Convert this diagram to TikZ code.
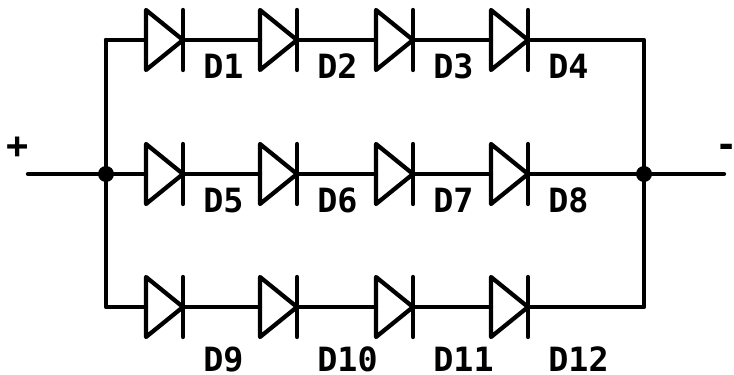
\documentclass[tikz,border=0pt]{standalone}
\usepackage{fontspec}
\setmonofont{DejaVu Sans Mono}
\tikzset{
  wire/.style={line width=0.085cm,line cap=round,line join=round},
  diodelabel/.style={inner sep=0pt,text depth=0pt,anchor=base west,font=\ttfamily\bfseries\fontsize{19}{19}\selectfont},
  polarity/.style={inner sep=0pt,font=\ttfamily\bfseries\fontsize{21}{21}\selectfont}
}
\begin{document}
\begin{tikzpicture}[x=0.02cm,y=-0.02cm]
      \useasboundingbox (0,0) rectangle (734,375);
      % terminals and buses
      \coordinate (in) at (28,174);
      \coordinate (out) at (724,174);
      \coordinate (busl) at (106,174);
      \coordinate (busr) at (644,174);
      \coordinate (lt) at (106,40);
      \coordinate (lb) at (106,307);
      \coordinate (rt) at (644,40);
      \coordinate (rb) at (644,307);
      % diodes, row by row
      \foreach \row/\ypos/\ylab/\first in {0/40/79/1,1/174/213/5,2/307/371/9} {
        \foreach \col/\xpos in {0/146,1/260,2/376,3/491} {
          \pgfmathtruncatemacro{\num}{\first+\col}
          \coordinate (a\num) at (\xpos,\ypos);
          \coordinate (k\num) at (\xpos+37,\ypos);
          \draw[wire] (\xpos,\ypos-30) -- (\xpos+37,\ypos) -- (\xpos,\ypos+30) -- cycle;
          \draw[wire] (\xpos+37,\ypos-30) -- (\xpos+37,\ypos+30);
          \node[diodelabel] (lab\num) at (\xpos+57,\ylab) {D\num};
        }
      }
      % wires
      \draw[wire] (lt) -- (a1);
      \draw[wire] (k1) -- (a2);
      \draw[wire] (k2) -- (a3);
      \draw[wire] (k3) -- (a4);
      \draw[wire] (k4) -- (rt) -- (rb) -- (k12);
      \draw[wire] (in) -- (a5);
      \draw[wire] (k5) -- (a6);
      \draw[wire] (k6) -- (a7);
      \draw[wire] (k7) -- (a8);
      \draw[wire] (k8) -- (out);
      \draw[wire] (a9) -- (lb) -- (lt);
      \draw[wire] (k9) -- (a10);
      \draw[wire] (k10) -- (a11);
      \draw[wire] (k11) -- (a12);
      \fill (busl) circle (8);
      \fill (busr) circle (8);
      \node[polarity] (plus) at (18,148) {+};
      \node[polarity] (minus) at (727,151) {-};
    \end{tikzpicture}
\end{document}
